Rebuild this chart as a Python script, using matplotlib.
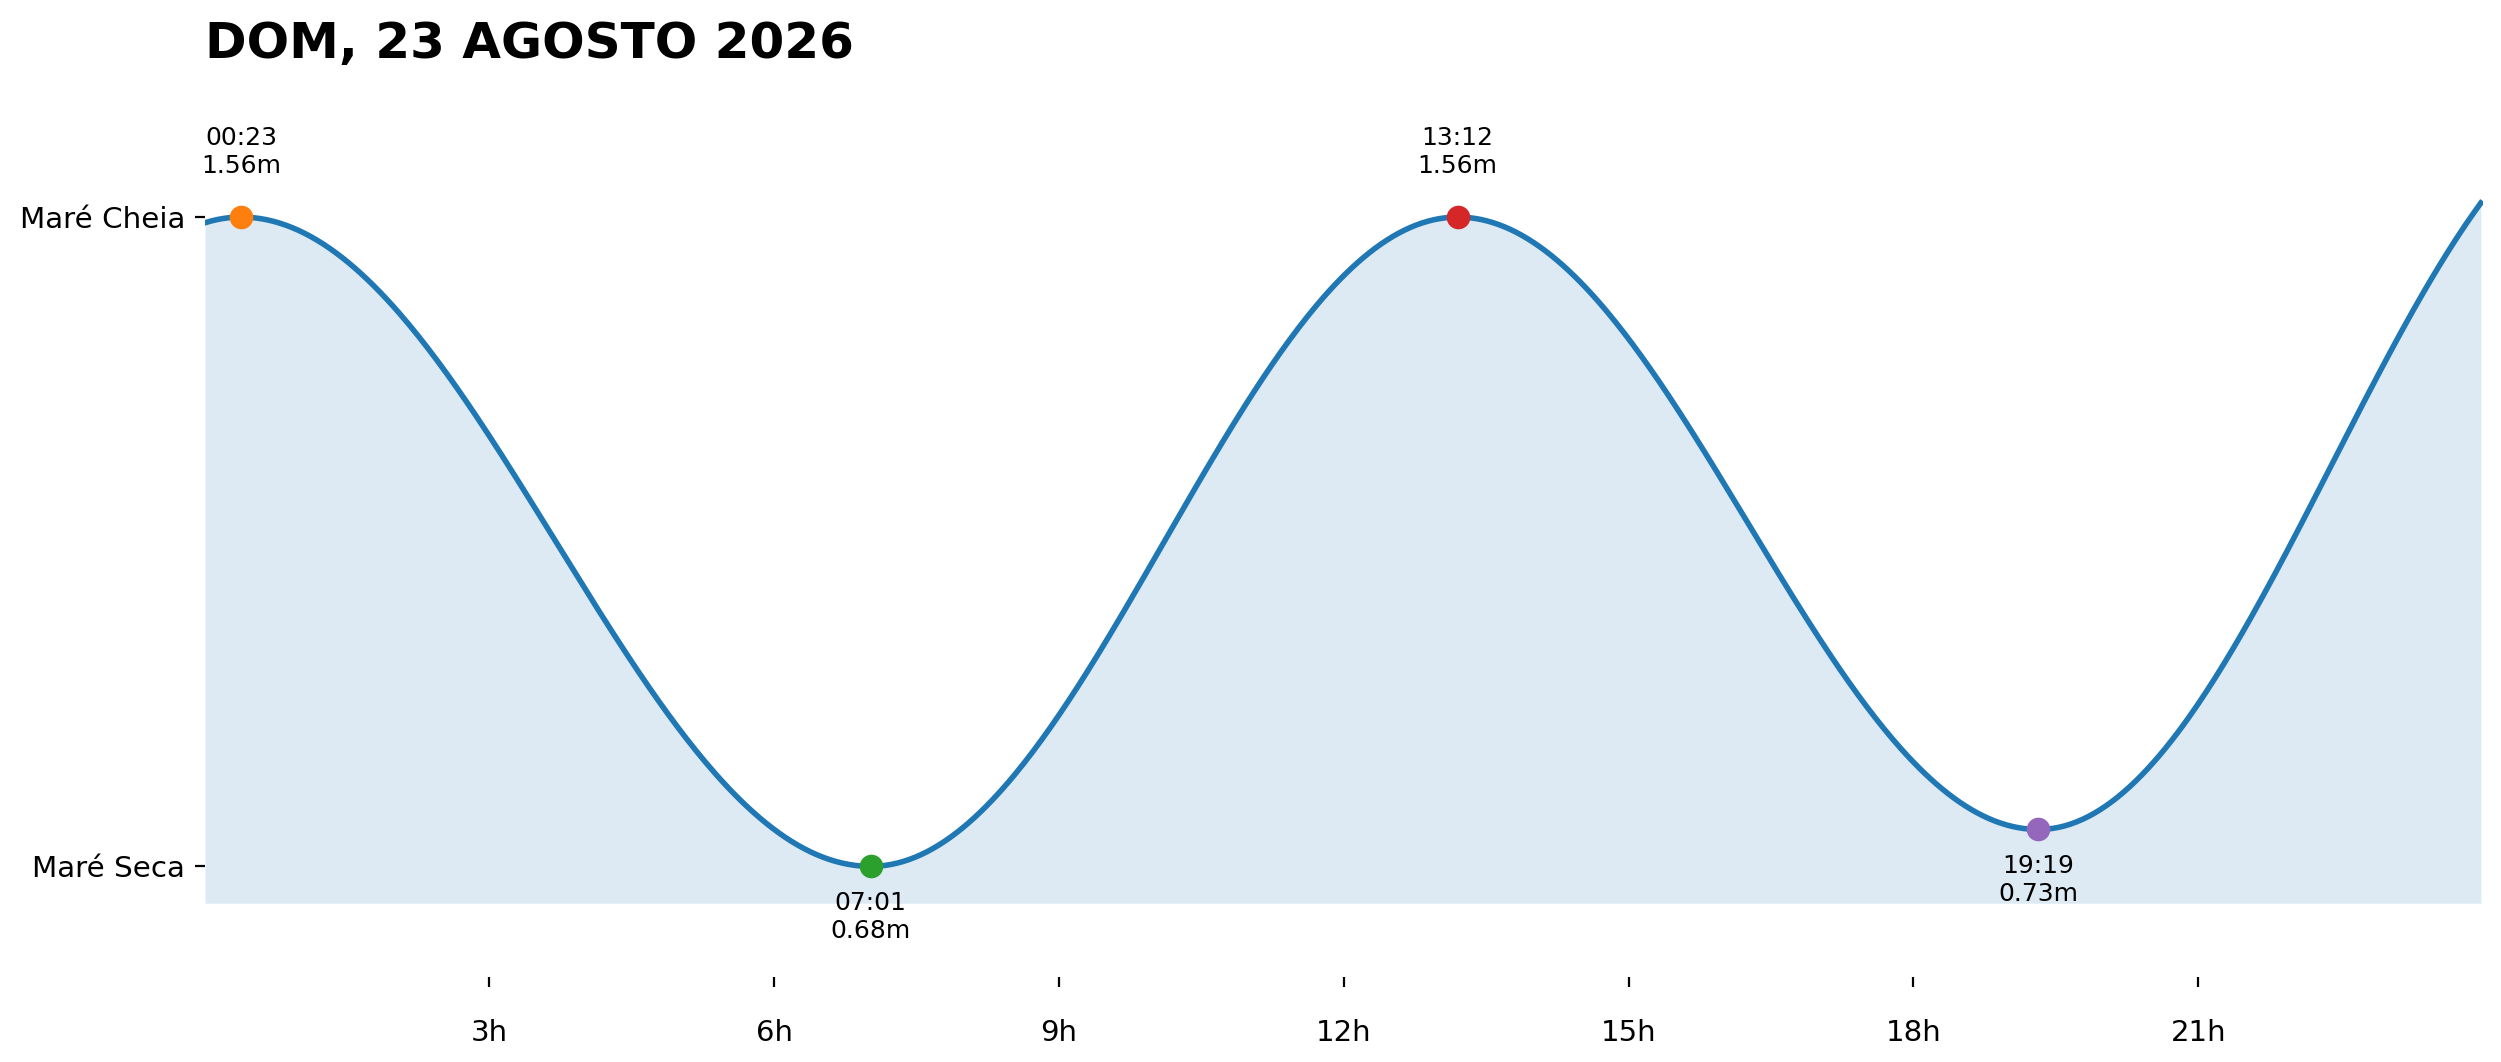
import numpy as np
import matplotlib
matplotlib.use('Agg')
import matplotlib.pyplot as plt

# extremos da maré do dia (hora, altura em metros)
tide_times = ['00:23', '07:01', '13:12', '19:19']
tide_heights = [1.56, 0.68, 1.56, 0.73]
tide_colors = ['tab:orange', 'tab:green', 'tab:red', 'tab:purple']
# extremos vizinhos fora do dia (horas relativas a 00:00), para a curva nas pontas
prev_extreme = (-5.9, 0.70)
next_extreme = (25.5, 1.72)

hour_ticks = [3, 6, 9, 12, 15, 18, 21]
hour_labels = ['3h', '6h', '9h', '12h', '15h', '18h', '21h']
title = 'DOM, 23 AGOSTO 2026'


def to_hours(hhmm):
    h, m = hhmm.split(':')
    return int(h) + int(m) / 60.0


ext_t = [prev_extreme[0]] + [to_hours(t) for t in tide_times] + [next_extreme[0]]
ext_v = [prev_extreme[1]] + tide_heights + [next_extreme[1]]

# curva cosseno entre extremos consecutivos
xs, ys = [], []
for i in range(len(ext_t) - 1):
    t0, t1 = ext_t[i], ext_t[i + 1]
    v0, v1 = ext_v[i], ext_v[i + 1]
    t = np.linspace(t0, t1, 200)
    xs.append(t)
    ys.append(v0 + (v1 - v0) * (1 - np.cos(np.pi * (t - t0) / (t1 - t0))) / 2)
xs = np.concatenate(xs)
ys = np.concatenate(ys)
mask = (xs >= 0) & (xs <= 24)
xs, ys = xs[mask], ys[mask]

vmax = max(tide_heights)
vmin = min(tide_heights)

fig = plt.figure(figsize=(12.505, 5.31), dpi=200)
ax = fig.add_axes([0.0818, 0.0800, 0.9110, 0.8198])

ax.fill_between(xs, ys, vmin - 0.05, color='tab:blue', alpha=0.15, lw=0)
ax.plot(xs, ys, color='tab:blue', lw=2)

for t, v, c in zip(tide_times, tide_heights, tide_colors):
    x = to_hours(t)
    ax.plot(x, v, 'o', color=c, ms=7.5, zorder=5)
    is_high = v > (vmax + vmin) / 2
    ax.annotate(t + '\n' + ('%.2fm' % v), (x, v),
                xytext=(0, 14 if is_high else -9), textcoords='offset points',
                ha='center', va='bottom' if is_high else 'top', fontsize=9)

ax.set_xlim(0, 24)
ax.set_ylim(vmin - 0.15, vmax + 0.15)
ax.set_xticks(hour_ticks)
ax.set_xticklabels(hour_labels)
ax.set_yticks([vmin, vmax])
ax.set_yticklabels(['Maré Seca', 'Maré Cheia'])
ax.tick_params(axis='x', labelsize=10.5, pad=11.5)
ax.tick_params(axis='y', labelsize=10.6)
for s in ax.spines.values():
    s.set_visible(False)

ax.set_title(title, loc='left', fontsize=18, fontweight='bold', pad=17.5)

plt.savefig('out.png', dpi=200)
